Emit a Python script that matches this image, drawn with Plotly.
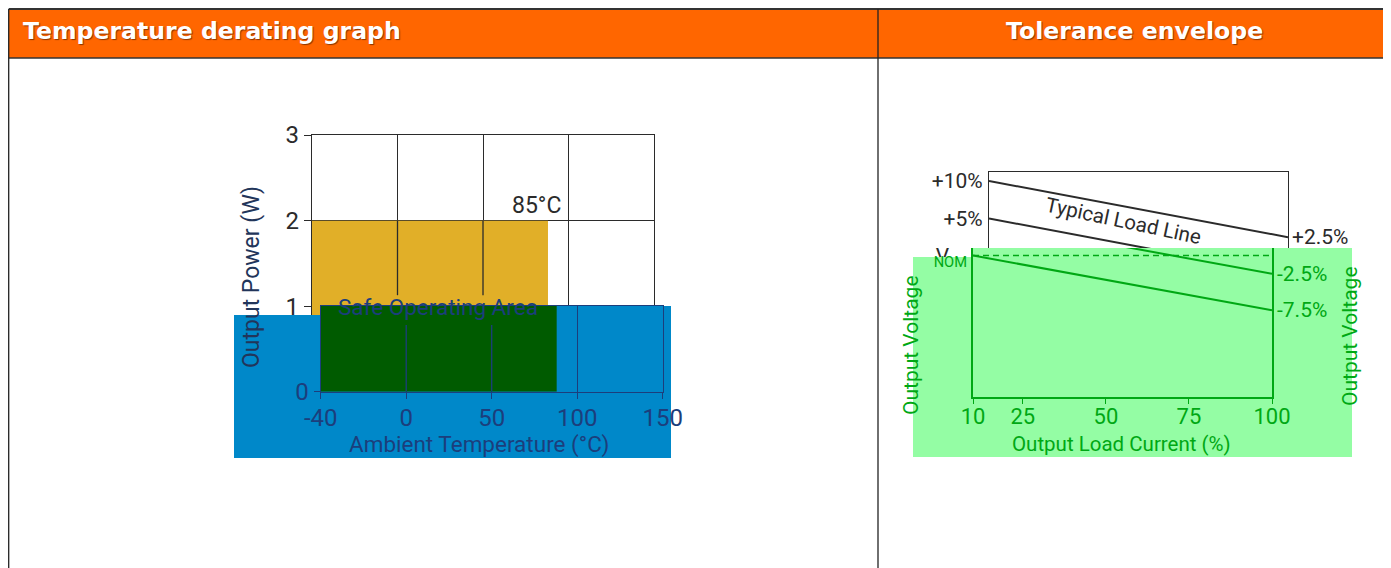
import numpy as np
import plotly.graph_objects as go

# page offset of the plot div (browser body margin) and figure size
OX, OY = 8, 8
FW, FH = 1383, 560

# ---------------- data ----------------
TEMP_TICKS = [-40, 0, 50, 100, 150]          # ambient temperature tick labels (°C)
POWER_TICKS_UPPER = [1, 2, 3]                # output power ticks (W)
POWER_TICKS_LOWER = [0]
SAFE_TEMP = [-40, 88]                        # safe operating area extent (°C)
SAFE_POWER = [2, 2]                          # safe operating area power (W)

LOAD = [10, 100]                             # output load current (%)
LOAD_TICKS = [10, 25, 50, 75, 100]
UPPER_LINE = [10, 2.5]                       # output voltage deviation (%)
TYPICAL_LINE = [5, -2.5]
LOWER_LINE = [0, -7.5]
NOMINAL = [0, 0]
LEFT_V_TICKS = [10, 5, 0]
LEFT_V_TEXT = ["+10%", "+5%", "V<sub>NOM</sub>"]
RIGHT_V_UPPER = [2.5]
RIGHT_V_LOWER = [-2.5, -7.5]

# ---------------- style ----------------
ORANGE = "#FF6600"
BORDER = "#333333"
DARK = "#2b2b2b"
GOLD = "#E1AF28"
BLUE = "#0088C9"
NAVY = "#1C3E7C"
DKGREEN = "#005B00"
LTGREEN = "#94FDA4"
GREEN = "#00A814"
FN = "Roboto, Liberation Sans, sans-serif"


def dx(p):
    return (p - OX) / FW


def dy(p):
    return 1 - (p - OY) / FH


def tpos(t):
    return np.interp(t, TEMP_TICKS, np.arange(len(TEMP_TICKS)))


fig = go.Figure()

# 1) upper-left: temperature derating (black/gold layer)
fig.add_trace(go.Scatter(x=tpos(SAFE_TEMP), y=SAFE_POWER, mode="lines", fill="tozeroy",
                         fillcolor=GOLD, line=dict(width=0), xaxis="x", yaxis="y",
                         hoverinfo="skip", showlegend=False))

# 2) upper-right: tolerance envelope (black layer)
for ys in (UPPER_LINE, TYPICAL_LINE, LOWER_LINE):
    fig.add_trace(go.Scatter(x=LOAD, y=ys, mode="lines", line=dict(color=DARK, width=2),
                             xaxis="x2", yaxis="y2", hoverinfo="skip", showlegend=False))
fig.add_trace(go.Scatter(x=LOAD, y=NOMINAL, mode="lines",
                         line=dict(color=DARK, width=1.3, dash="6px,4px"),
                         xaxis="x2", yaxis="y2", hoverinfo="skip", showlegend=False))

# 3) colour overlay patches (page-pixel coordinate layer)
BLUE_PX = [234, 320, 320, 671, 671, 234, 234]
BLUE_PY = [315, 315, 306, 306, 458, 458, 315]
GREEN_PX = [913, 973, 973, 1352, 1352, 913, 913]
GREEN_PY = [257, 257, 248, 248, 457, 457, 257]
fig.add_trace(go.Scatter(x=BLUE_PX, y=BLUE_PY, mode="lines", fill="toself", fillcolor=BLUE,
                         line=dict(width=0), xaxis="x3", yaxis="y3", hoverinfo="skip",
                         showlegend=False))
fig.add_trace(go.Scatter(x=GREEN_PX, y=GREEN_PY, mode="lines", fill="toself", fillcolor=LTGREEN,
                         line=dict(width=0), xaxis="x3", yaxis="y3", hoverinfo="skip",
                         showlegend=False))

# 4) lower-left: derating (blue layer)
fig.add_trace(go.Scatter(x=tpos(SAFE_TEMP), y=SAFE_POWER, mode="lines", fill="tozeroy",
                         fillcolor=DKGREEN, line=dict(width=0), xaxis="x4", yaxis="y4",
                         hoverinfo="skip", showlegend=False))

# 5) lower-right: tolerance envelope (green layer)
for ys in (UPPER_LINE, TYPICAL_LINE, LOWER_LINE):
    fig.add_trace(go.Scatter(x=LOAD, y=ys, mode="lines", line=dict(color=GREEN, width=2),
                             xaxis="x5", yaxis="y5", hoverinfo="skip", showlegend=False))
fig.add_trace(go.Scatter(x=LOAD, y=NOMINAL, mode="lines",
                         line=dict(color=GREEN, width=1.3, dash="6px,4px"),
                         xaxis="x5", yaxis="y5", hoverinfo="skip", showlegend=False))

tick_idx = list(range(len(TEMP_TICKS)))
tick_txt = [str(t) for t in TEMP_TICKS]

fig.update_layout(
    template="none",
    width=FW, height=FH, autosize=False,
    margin=dict(l=0, r=0, t=0, b=0, pad=0, autoexpand=False),
    paper_bgcolor="white", plot_bgcolor="rgba(0,0,0,0)",
    showlegend=False,
    # upper-left
    xaxis=dict(domain=[dx(312), dx(654)], range=[0, 4], tickvals=tick_idx, showticklabels=False,
               showgrid=True, gridcolor=DARK, gridwidth=1.3, zeroline=False, ticks="",
               showline=True, linecolor=DARK, linewidth=1.3, mirror=True, anchor="y",
               automargin=False, fixedrange=True),
    yaxis=dict(domain=[dy(392), dy(135)], range=[0, 3], tickvals=POWER_TICKS_UPPER,
               showgrid=True, gridcolor=DARK, gridwidth=1.3, zeroline=False,
               showline=True, linecolor=DARK, linewidth=1.3, mirror=True,
               ticks="outside", ticklen=7, tickcolor=DARK, tickwidth=1.3,
               tickfont=dict(family=FN, size=24, color=DARK), anchor="x",
               automargin=False, fixedrange=True),
    # upper-right
    xaxis2=dict(domain=[dx(989), dx(1288)], range=[10, 100], showticklabels=False, showgrid=False,
                zeroline=False, showline=True, linecolor=DARK, linewidth=1.3, mirror=True, ticks="",
                anchor="y2", automargin=False, fixedrange=True),
    yaxis2=dict(domain=[dy(399), dy(172)], range=[-19.07, 11.2], tickvals=LEFT_V_TICKS,
                ticktext=LEFT_V_TEXT, showgrid=False, zeroline=False, showline=True,
                linecolor=DARK, linewidth=1.3, mirror=True, ticks="", ticklabelstandoff=1,
                tickfont=dict(family=FN, size=21, color=DARK), anchor="x2",
                automargin=False, fixedrange=True),
    # overlay page-pixel layer
    xaxis3=dict(domain=[0, 1], range=[OX, OX + FW], visible=False, anchor="y3", automargin=False,
                fixedrange=True),
    yaxis3=dict(domain=[0, 1], range=[OY + FH, OY], visible=False, anchor="x3", automargin=False,
                fixedrange=True),
    # lower-left
    xaxis4=dict(domain=[dx(320.7), dx(662.7)], range=[0, 4], tickvals=tick_idx, ticktext=tick_txt,
                showgrid=True, gridcolor=NAVY, gridwidth=1.3, zeroline=False,
                showline=True, linecolor=NAVY, linewidth=1.3, mirror=True,
                ticks="outside", ticklen=6, tickcolor=NAVY, tickwidth=1.3, ticklabelstandoff=-2,
                tickfont=dict(family=FN, size=24, color=NAVY), anchor="y4",
                automargin=False, fixedrange=True),
    yaxis4=dict(domain=[dy(391.7), dy(306)], range=[0, 1.002], tickvals=POWER_TICKS_LOWER,
                showgrid=True, gridcolor=NAVY, gridwidth=1.3, zeroline=False,
                showline=True, linecolor=NAVY, linewidth=1.3, mirror=True,
                ticks="outside", ticklen=6, tickcolor=NAVY, tickwidth=1.3,
                tickfont=dict(family=FN, size=24, color=NAVY), anchor="x4",
                automargin=False, fixedrange=True),
    # lower-right
    xaxis5=dict(domain=[dx(973), dx(1272)], range=[10, 100], tickvals=LOAD_TICKS,
                showgrid=False, zeroline=False, showline=True, linecolor=GREEN, linewidth=1.5,
                ticks="outside", ticklen=5, tickcolor=GREEN, tickwidth=1.3, ticklabelstandoff=-6,
                tickfont=dict(family=FN, size=22, color=GREEN), anchor="y5",
                automargin=False, fixedrange=True),
    yaxis5=dict(domain=[dy(397), dy(248)], range=[-19.4, 1.03], tickvals=[0],
                ticktext=["<span style='color:rgba(0,0,0,0)'>V</span><sub>NOM</sub>"],
                showgrid=False, zeroline=False, showline=True, ticklabelstandoff=0,
                linecolor=GREEN, linewidth=1.5, mirror=True, ticks="",
                tickfont=dict(family=FN, size=21, color=GREEN), anchor="x5",
                automargin=False, fixedrange=True),
)

shapes = []
# table borders and header
LEFT_B = max(5, OX + 0.7)
TOP_B = max(7, OY + 1)
shapes.append(dict(type="rect", xref="paper", yref="paper", x0=dx(LEFT_B), x1=dx(1389), y0=dy(58),
                   y1=dy(TOP_B), fillcolor=ORANGE, line=dict(width=0), layer="below"))
shapes.append(dict(type="line", xref="paper", yref="paper", x0=dx(LEFT_B), x1=dx(1389), y0=dy(TOP_B),
                   y1=dy(TOP_B), line=dict(color=BORDER, width=2), layer="below"))
shapes.append(dict(type="line", xref="paper", yref="paper", x0=dx(LEFT_B), x1=dx(1389), y0=dy(58),
                   y1=dy(58), line=dict(color=BORDER, width=1.5), layer="below"))
for xb in (LEFT_B, 878, 1388.5):
    shapes.append(dict(type="line", xref="paper", yref="paper", x0=dx(xb), x1=dx(xb), y0=0, y1=dy(TOP_B),
                       line=dict(color="#222222", width=1.3), layer="below"))

# grid lines passing over the safe-operating-area fills (interrupted by the area label)
for t in TEMP_TICKS:
    if SAFE_TEMP[0] < t < SAFE_TEMP[1]:
        shapes.append(dict(type="line", xref="x", yref="y", x0=tpos(t), x1=tpos(t), y0=1.13, y1=SAFE_POWER[0],
                           line=dict(color=DARK, width=1.3), layer="above"))
        shapes.append(dict(type="line", xref="x4", yref="y4", x0=tpos(t), x1=tpos(t), y0=0, y1=0.78,
                           line=dict(color=NAVY, width=1.3), layer="above"))
# right-axis ticks on the green layer
for v in RIGHT_V_LOWER:
    shapes.append(dict(type="line", xref="x5", yref="y5", x0=100, x1=101.5, y0=v, y1=v,
                       line=dict(color=GREEN, width=1.3), layer="above"))
fig.update_layout(shapes=shapes)

ann = []
HEAD = dict(family="DejaVu Sans", size=23.6, color="white", weight="bold",
            shadow="1px 1px 1px rgba(60,20,0,0.6)")
ann.append(dict(text="Temperature derating graph", xref="paper", yref="paper", x=dx(21), y=dy(31),
                xanchor="left", yanchor="middle", showarrow=False, font=HEAD))
ann.append(dict(text="Tolerance envelope", xref="paper", yref="paper", x=dx(1134), y=dy(31),
                xanchor="center", yanchor="middle", showarrow=False, font=HEAD))
# left chart texts
ann.append(dict(text="85°C", xref="x", yref="y", x=tpos(SAFE_TEMP[1]), y=SAFE_POWER[1],
                xanchor="right", yanchor="bottom", xshift=15, yshift=0, showarrow=False,
                font=dict(family=FN, size=23, color=DARK)))
ann.append(dict(text="Safe Operating Area", xref="paper", yref="paper", x=dx(438), y=dy(307),
                xanchor="center", yanchor="middle", showarrow=False,
                font=dict(family=FN, size=22.5, color=NAVY)))
ann.append(dict(text="Output Power (W)", xref="paper", yref="paper", x=dx(251), y=dy(277),
                xanchor="center", yanchor="middle", textangle=-90, showarrow=False,
                font=dict(family=FN, size=23, color="#22355a")))
ann.append(dict(text="Ambient Temperature (°C)", xref="paper", yref="paper", x=dx(479), y=dy(444),
                xanchor="center", yanchor="middle", showarrow=False,
                font=dict(family=FN, size=22.5, color=NAVY)))
# right chart texts
for v in RIGHT_V_UPPER:
    ann.append(dict(text=f"+{v}%", xref="x2", yref="y2", x=100, y=v, xanchor="left", yanchor="middle",
                    xshift=2, showarrow=False, font=dict(family=FN, size=21, color=DARK)))
for v in RIGHT_V_LOWER:
    ann.append(dict(text=f"{v}%", xref="x5", yref="y5", x=100, y=v, xanchor="left", yanchor="middle",
                    xshift=3, showarrow=False, font=dict(family=FN, size=21, color=GREEN)))
ann.append(dict(text="Typical Load Line", xref="x2", yref="y2", x=50.5, y=4.6, textangle=12,
                xanchor="center", yanchor="middle", showarrow=False,
                font=dict(family=FN, size=20.5, color=DARK)))
ann.append(dict(text="Output Load Current (%)", xref="paper", yref="paper", x=dx(1121), y=dy(444),
                xanchor="center", yanchor="middle", showarrow=False,
                font=dict(family=FN, size=20.5, color=GREEN)))
ann.append(dict(text="Output Voltage", xref="paper", yref="paper", x=dx(1350), y=dy(336),
                xanchor="center", yanchor="middle", textangle=-90, showarrow=False,
                font=dict(family=FN, size=21, color=GREEN)))
ann.append(dict(text="Output Voltage", xref="paper", yref="paper", x=dx(911), y=dy(345),
                xanchor="center", yanchor="middle", textangle=-90, showarrow=False,
                font=dict(family=FN, size=21, color=GREEN)))
fig.update_layout(annotations=ann)

fig.write_html("out.html")
